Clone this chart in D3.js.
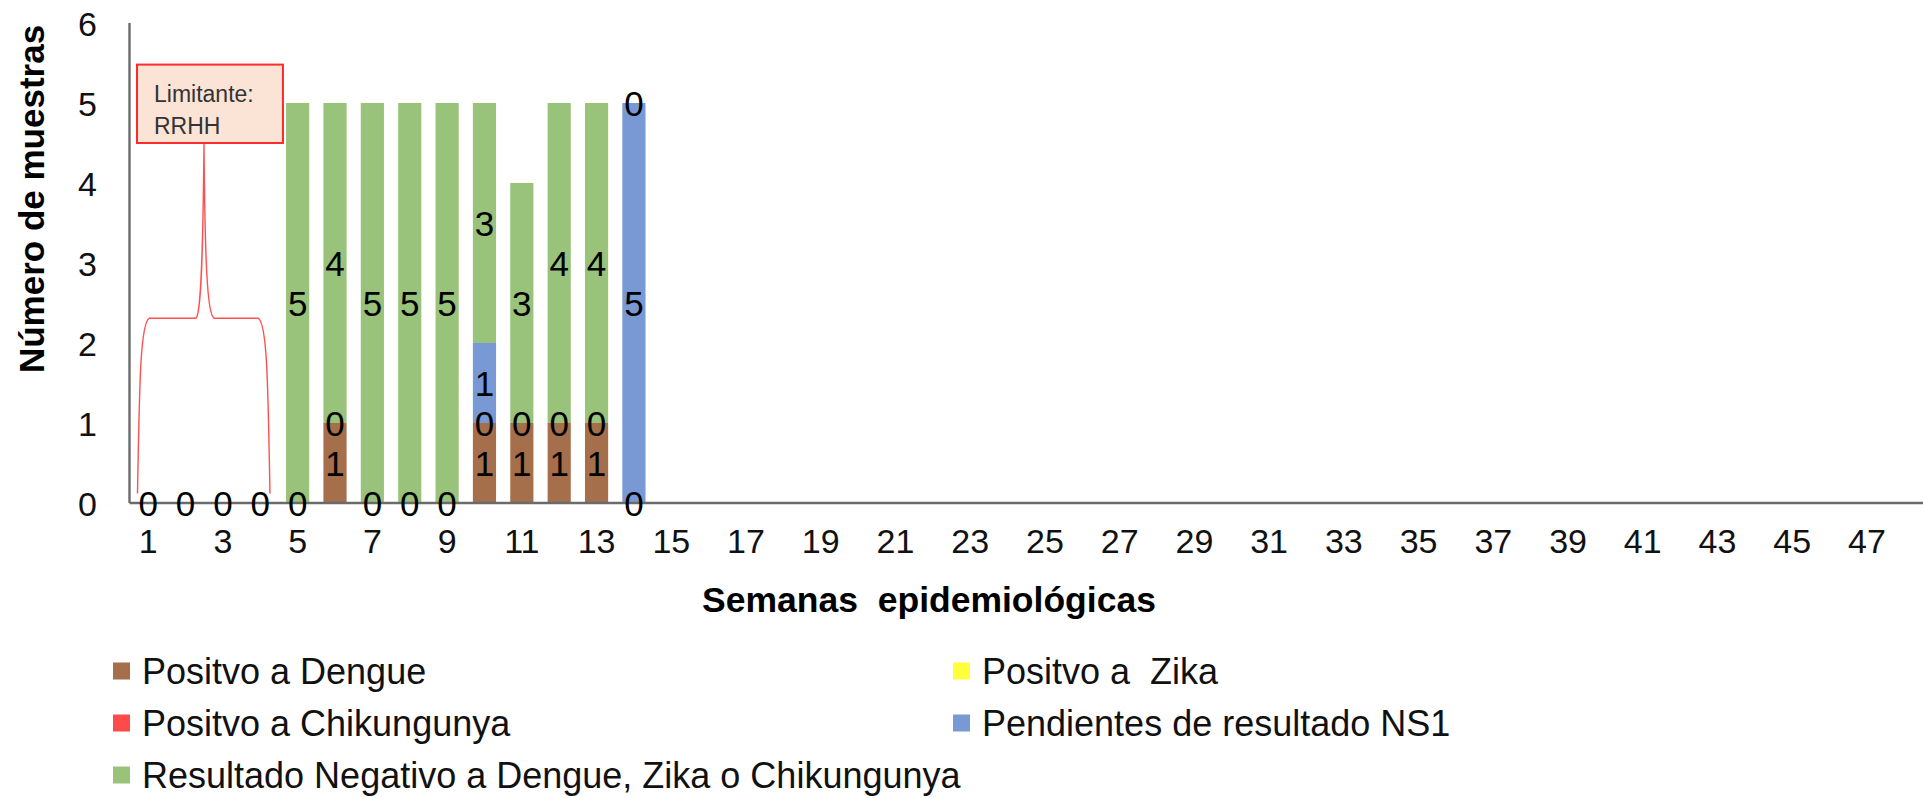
<!DOCTYPE html>
<html><head><meta charset="utf-8">
<script src="https://cdn.jsdelivr.net/npm/d3@7"></script>
<style>
html,body{margin:0;padding:0;background:#fff;}
svg{display:block;}
text{font-family:"Liberation Sans",Arial,sans-serif;}
</style></head>
<body>
<svg id="chart" width="1923" height="798"></svg>
<script>
// ---- data ----
const weeks = [1,2,3,4,5,6,7,8,9,10,11,12,13,14,15,16,17,18,19,20,21,22,23,24,25,26,27,28,29,30,31,32,33,34,35,36,37,38,39,40,41,42,43,44,45,46,47,48];
const dataWeeks = [1,2,3,4,5,6,7,8,9,10,11,12,13,14];
const dengue     = [0,0,0,0,0,1,0,0,0,1,1,1,1,0];
const zika       = [0,0,0,0,0,0,0,0,0,0,0,0,0,0];
const chik       = [0,0,0,0,0,0,0,0,0,0,0,0,0,0];
const pendientes = [0,0,0,0,0,0,0,0,0,1,0,0,0,5];
const negativo   = [0,0,0,0,5,4,5,5,5,3,3,4,4,0];
const seriesKeys = ["dengue","zika","chik","pendientes","negativo"];
const seriesNames = ["Positvo a Dengue","Positvo a  Zika","Positvo a Chikungunya","Pendientes de resultado NS1","Resultado Negativo a Dengue, Zika o Chikungunya"];
const seriesColors = ["#a66f4b","#ffff3c","#ff4a4a","#7899d4","#99c27b"];
const yTicks = [0,1,2,3,4,5,6];
const xTickLabels = [1,3,5,7,9,11,13,15,17,19,21,23,25,27,29,31,33,35,37,39,41,43,45,47];
const xTitle = "Semanas  epidemiológicas";
const yTitle = "Número de muestras";
const calloutText = ["Limitante:","RRHH"];
const calloutWeeks = [1,4];

const rows = dataWeeks.map((w,i)=>({week:w, dengue:dengue[i], zika:zika[i], chik:chik[i], pendientes:pendientes[i], negativo:negativo[i]}));

const svg = d3.select("#chart");
const x = d3.scaleBand().domain(weeks).range([129.5,1923]).paddingInner(0.38).paddingOuter(0.19);
const y = d3.scaleLinear().domain([0,6]).range([503,23]);
const color = d3.scaleOrdinal().domain(seriesKeys).range(seriesColors);

const stacked = d3.stack().keys(seriesKeys)(rows);

// bars
svg.append("g").selectAll("g").data(stacked).join("g")
  .attr("fill", d=>color(d.key))
  .selectAll("rect").data(d=>d).join("rect")
  .attr("x", d=>x(d.data.week))
  .attr("width", x.bandwidth())
  .attr("y", d=>y(d[1]))
  .attr("height", d=>y(d[0])-y(d[1]));

// axes
const xAxisG = svg.append("g").attr("transform","translate(0,"+y(0)+")")
  .call(d3.axisBottom(x).tickValues(xTickLabels).tickSize(0).tickPadding(0));
xAxisG.select(".domain").attr("d","M129.5,0H1923").attr("stroke","#6b6b6b").attr("stroke-width",2.4);
xAxisG.selectAll("text").attr("font-size",34).attr("fill","#111").attr("dy","0.36em").attr("y",38)
  .attr("font-family","Liberation Sans, Arial, sans-serif");

const yAxisG = svg.append("g").attr("transform","translate(129.5,0)")
  .call(d3.axisLeft(y).tickValues(yTicks).tickSize(0).tickPadding(0).tickFormat(d3.format("d")));
yAxisG.select(".domain").attr("d","M0,"+y(6)+"V"+y(0)).attr("stroke","#6b6b6b").attr("stroke-width",2.4);
yAxisG.selectAll("text").attr("font-size",34).attr("fill","#111").attr("x",-42).attr("text-anchor","middle").attr("dy","0.36em")
  .attr("font-family","Liberation Sans, Arial, sans-serif");

// data labels
const labels = [];
const seen = new Set();
stacked.forEach(s=>{
  s.forEach(d=>{
    const v = d[1]-d[0];
    const cy = (d[0]+d[1])/2;
    const key = d.data.week+"|"+cy+"|"+v;
    if(!seen.has(key)){ seen.add(key); labels.push({week:d.data.week, cy:cy, v:v}); }
  });
});
svg.append("g").selectAll("text").data(labels).join("text")
  .attr("x", d=>x(d.week)+x.bandwidth()/2)
  .attr("y", d=>y(d.cy))
  .attr("dy","0.36em")
  .attr("text-anchor","middle")
  .attr("font-size",35)
  .attr("fill","#000")
  .text(d=>d.v);

// axis titles
svg.append("text").attr("x",929).attr("y",599).attr("dy","0.36em").attr("text-anchor","middle")
  .attr("font-size",35.5).attr("font-weight","bold").attr("fill","#000").style("white-space","pre").text(xTitle);
svg.append("text").attr("transform","translate(31,199) rotate(-90)").attr("dy","0.36em").attr("text-anchor","middle")
  .attr("font-size",35).attr("font-weight","bold").attr("fill","#000").text(yTitle);

// callout with brace
const bx0 = x(calloutWeeks[0]) - x.step()*x.paddingOuter() + 7.5;
const bx1 = x(calloutWeeks[1]+1) - x.step()*x.paddingOuter() + 4;
const fx0 = x(calloutWeeks[0]) - x.step()*x.paddingOuter() + 8;
const fx1 = x(calloutWeeks[1]) + x.bandwidth() + x.step()*x.paddingInner()/2 - 9;
const tipX = (bx0+bx1)/2 - 6;
const yb = y(2.31), yf = y(0.12), yTop = y(4.5);
const brace = d3.path();
brace.moveTo(fx0, yf);
brace.bezierCurveTo(fx0+2, yb+60, fx0+3, yb+4, fx0+12, yb);
brace.lineTo(tipX-8, yb);
brace.bezierCurveTo(tipX-3, yb-4, tipX-1, yb-60, tipX, yTop);
brace.moveTo(tipX, yTop);
brace.bezierCurveTo(tipX+1, yb-60, tipX+3, yb-4, tipX+10, yb);
brace.lineTo(fx1-12, yb);
brace.bezierCurveTo(fx1-3, yb+4, fx1-2, yb+60, fx1, yf);
svg.append("path").attr("d", brace.toString()).attr("fill","none").attr("stroke","#ff5050").attr("stroke-width",1.4);

svg.append("rect").attr("x",bx0).attr("y",y(5.48)).attr("width",bx1-bx0).attr("height",y(4.5)-y(5.48))
  .attr("fill","#fbe4d6").attr("stroke","#ff2a2a").attr("stroke-width",2);
svg.append("g").selectAll("text").data(calloutText).join("text")
  .attr("x",bx0+17).attr("y",(d,i)=>y(5.48)+37+i*32)
  .attr("font-family","Lato, 'Open Sans', sans-serif").attr("font-size",23).attr("fill","#333")
  .text(d=>d);

// legend
const legendPos = {dengue:[113,671],zika:[953,671],chik:[113,723],pendientes:[953,723],negativo:[113,775]};
const lg = svg.append("g").selectAll("g").data(seriesKeys).join("g")
  .attr("transform",d=>"translate("+legendPos[d][0]+","+legendPos[d][1]+")");
lg.append("rect").attr("x",0).attr("y",-8.5).attr("width",17).attr("height",17).attr("fill",d=>color(d));
lg.append("text").attr("x",29).attr("dy","0.36em").attr("font-size",36).attr("fill","#111")
  .style("white-space","pre").text((d,i)=>seriesNames[i]);
</script>
</body></html>
